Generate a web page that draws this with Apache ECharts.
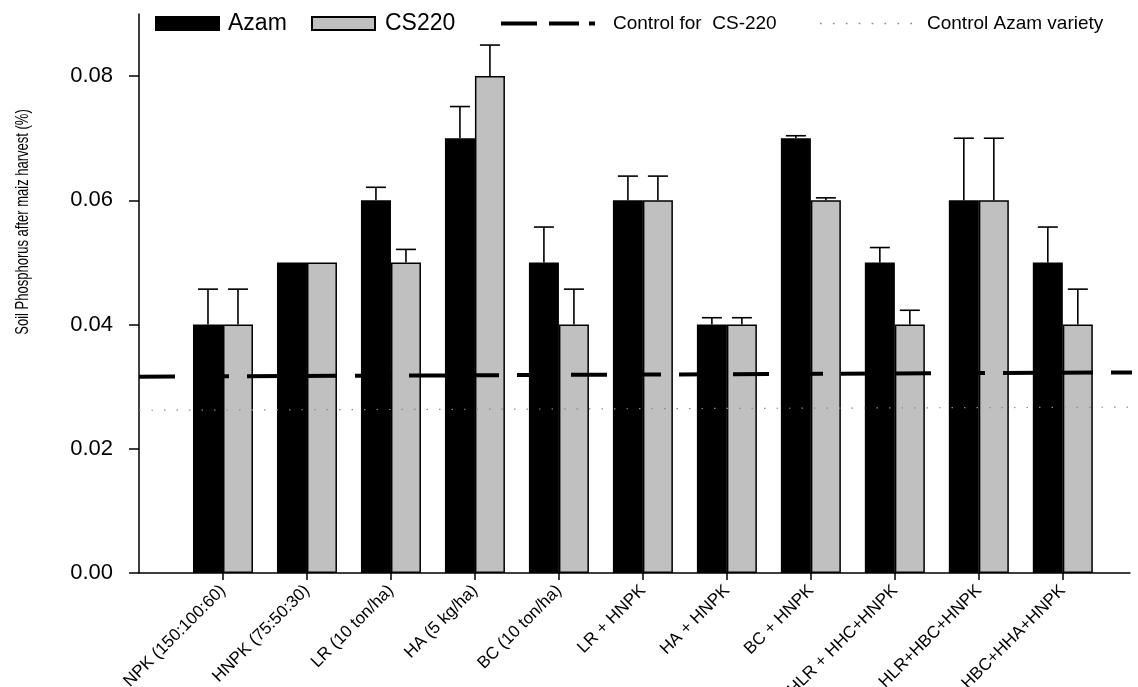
<!DOCTYPE html>
<html>
<head>
<meta charset="utf-8">
<script src="https://cdn.jsdelivr.net/npm/echarts@6/dist/echarts.min.js"></script>
<style>
    html, body { margin: 0; padding: 0; background: #fff; }
    #main { width: 1138px; height: 687px; }
</style>
</head>
<body>
<div id="main"></div>
<script>
const categories = ['NPK (150:100:60)', 'HNPK (75:50:30)', 'LR (10 ton/ha)', 'HA (5 kg/ha)', 'BC (10 ton/ha)',
    'LR + HNPK', 'HA + HNPK', 'BC + HNPK', 'HLR + HHC+HNPK', 'HLR+HBC+HNPK', 'HBC+HHA+HNPK'];
const azam = [0.04, 0.05, 0.06, 0.07, 0.05, 0.06, 0.04, 0.07, 0.05, 0.06, 0.05];
const cs220 = [0.04, 0.05, 0.05, 0.08, 0.04, 0.06, 0.04, 0.06, 0.04, 0.06, 0.04];
const azamErr = [0.0057, 0, 0.0021, 0.0051, 0.0057, 0.0039, 0.0011, 0.0004, 0.0024, 0.0100, 0.0057];
const cs220Err = [0.0057, 0, 0.0021, 0.0050, 0.0057, 0.0039, 0.0011, 0.0004, 0.0023, 0.0100, 0.0057];
const controlCS = [[-1, 0.0316], [10.9, 0.0323]];
const controlAzam = [[-1, 0.0262], [10.8, 0.0267]];
const yTicks = [0, 0.02, 0.04, 0.06, 0.08];
const yName = 'Soil Phosphorus after maiz harvest (%)';

const FONT = "'Liberation Sans', Arial, sans-serif";
const BAR_W = 30;
// legend icons drawn as paths so the dash pattern shows
const DASH_ICON = 'path://M0,0h36v4h-36z M48,0h30v4h-30z M88,0h6v4h-6z';
const DOT_ICON = 'path://' + [0, 1, 2, 3, 4, 5, 6, 7].map(k => `M${k * 12.5},0h1.6v1.6h-1.6z`).join(' ');

let chart;

document.addEventListener('DOMContentLoaded', () => {
    chart = echarts.init(document.getElementById('main'));
    renderChart();
});

function errorData(values, errs, side) {
    return values.map((v, i) => [i, v, v + errs[i], side]).filter((d, i) => errs[i] > 0);
}

function renderError(params, api) {
    const base = api.coord([api.value(0), api.value(1)]);
    const top = api.coord([api.value(0), api.value(2)]);
    const x = base[0] + api.value(3) * BAR_W / 2;
    const style = { stroke: '#000', lineWidth: 1.6 };
    return {
        type: 'group',
        children: [
            { type: 'line', shape: { x1: x, y1: base[1], x2: x, y2: top[1] }, style },
            { type: 'line', shape: { x1: x - 10, y1: top[1], x2: x + 10, y2: top[1] }, style }
        ]
    };
}

function legendAt(name, left, top, icon, itemWidth, itemHeight, fontSize, gap) {
    return {
        data: [name], left, top, icon, itemWidth, itemHeight,
        textStyle: { color: '#000', fontSize, fontFamily: FONT, padding: [0, 0, 0, gap] }
    };
}

function renderChart() {
    const axisLine = { show: true, onZero: false, lineStyle: { color: '#000', width: 1.5 } };
    const catTicks = categories.map((c, i) => i);

    const option = {
        animation: false,
        grid: { left: 139, right: 8, top: 14, bottom: 114, outerBoundsMode: 'none' },
        legend: [
            legendAt('Azam', 150, 7, 'rect', 63, 13, 23, 4),
            legendAt('CS220', 306, 7, 'rect', 63, 13, 23, 5),
            legendAt('Control for  CS-220', 496, 9, DASH_ICON, 94, 4, 19, 13),
            legendAt('Control Azam variety', 815, 9, DOT_ICON, 92, 2, 19, 10)
        ],
        xAxis: {
            type: 'value', min: -1, max: 10.8,
            axisLine,
            axisTick: { show: true, length: 7, customValues: catTicks, lineStyle: { color: '#000', width: 1.5 } },
            axisLabel: {
                customValues: catTicks, formatter: v => categories[v] || '',
                rotate: 45, margin: 15, fontSize: 17, color: '#000', fontFamily: FONT
            },
            splitLine: { show: false }
        },
        yAxis: {
            type: 'value', min: 0, max: 0.09,
            axisLine,
            axisTick: { show: true, length: 10, customValues: yTicks, lineStyle: { color: '#000', width: 1.5 } },
            axisLabel: {
                customValues: yTicks, formatter: v => v.toFixed(2),
                margin: 26, fontSize: 22, color: '#000', fontFamily: FONT
            },
            splitLine: { show: false }
        },
        graphic: [{
            type: 'text', x: 23, y: 222, rotation: Math.PI / 2, scaleY: 1.4,
            style: { text: yName, fontSize: 13, fontFamily: FONT, fill: '#000', align: 'center', verticalAlign: 'middle' }
        }],
        series: [
            { name: 'Azam', type: 'bar', data: azam.map((v, i) => [i, v]), barWidth: BAR_W, barGap: '0%',
              itemStyle: { color: '#000', borderColor: '#000', borderWidth: 1.5 } },
            { name: 'CS220', type: 'bar', data: cs220.map((v, i) => [i, v]), barWidth: BAR_W, barGap: '0%',
              itemStyle: { color: '#c0c0c0', borderColor: '#000', borderWidth: 1.5 } },
            { type: 'custom', data: errorData(azam, azamErr, -1), renderItem: renderError, z: 3, silent: true },
            { type: 'custom', data: errorData(cs220, cs220Err, 1), renderItem: renderError, z: 3, silent: true },
            { name: 'Control for  CS-220', type: 'line', data: controlCS, symbol: 'none', clip: false, z: 5, silent: true,
              color: '#000', itemStyle: { color: '#000' },
              lineStyle: { color: '#000', width: 4, type: [36, 18] } },
            { name: 'Control Azam variety', type: 'line', data: controlAzam, symbol: 'none', clip: false, z: 5, silent: true,
              color: '#8a8a8a', itemStyle: { color: '#8a8a8a' },
              lineStyle: { color: '#8a8a8a', width: 1.2, type: [1.5, 11] } }
        ]
    };
    chart.setOption(option, true);
}
</script>
</body>
</html>
